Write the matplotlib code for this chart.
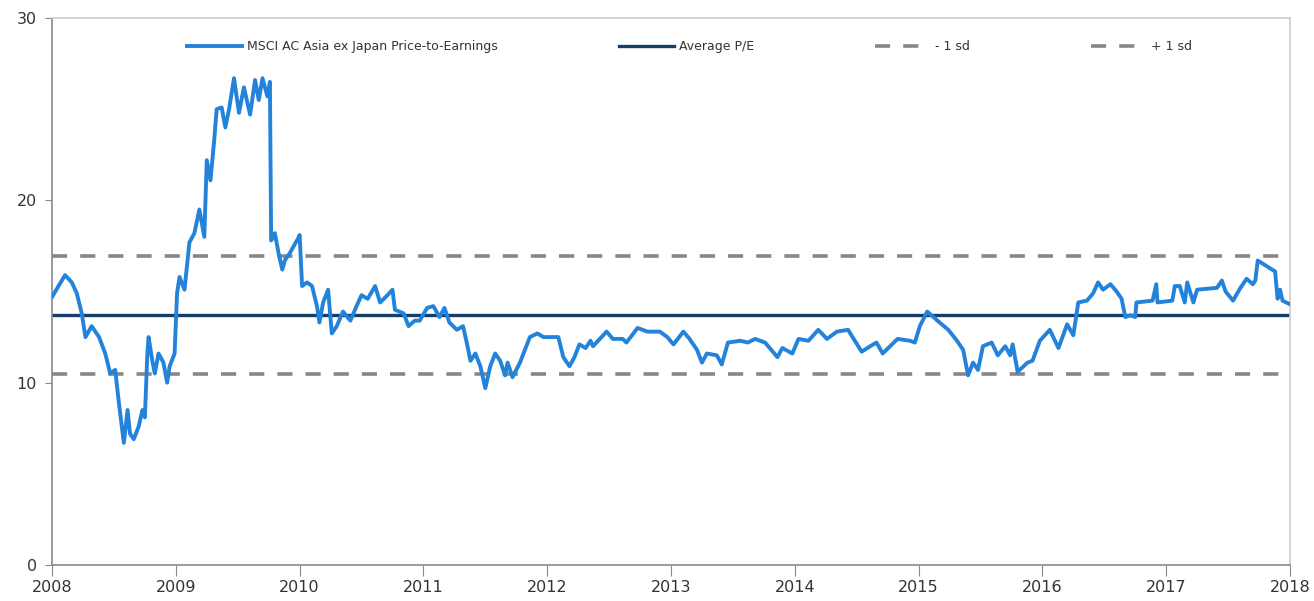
import matplotlib.pyplot as plt
import numpy as np

plt.rcParams['font.family'] = ['Liberation Sans Narrow', 'DejaVu Sans Condensed', 'DejaVu Sans']

# MSCI AC Asia ex Japan trailing P/E
years = [
    2008.00, 2008.105, 2008.16, 2008.20, 2008.24, 2008.27, 2008.32, 2008.38, 2008.43, 2008.47,
    2008.51, 2008.54, 2008.58, 2008.61, 2008.63, 2008.66, 2008.70, 2008.73, 2008.75, 2008.77,
    2008.78, 2008.81, 2008.83, 2008.86, 2008.90, 2008.93, 2008.95, 2008.99, 2009.01, 2009.03,
    2009.07, 2009.11, 2009.15, 2009.19, 2009.23, 2009.25, 2009.28, 2009.31, 2009.33, 2009.37,
    2009.40, 2009.43, 2009.47, 2009.51, 2009.55, 2009.60, 2009.64, 2009.67, 2009.70, 2009.74,
    2009.76, 2009.77, 2009.80, 2009.83, 2009.86, 2009.88, 2009.92, 2009.995, 2010.00, 2010.02,
    2010.06, 2010.10, 2010.14, 2010.16, 2010.19, 2010.23, 2010.26, 2010.30, 2010.35, 2010.41,
    2010.46, 2010.50, 2010.55, 2010.61, 2010.65, 2010.71, 2010.75, 2010.77, 2010.84, 2010.88,
    2010.93, 2010.97, 2011.03, 2011.08, 2011.13, 2011.17, 2011.21, 2011.27, 2011.32, 2011.35,
    2011.38, 2011.42, 2011.46, 2011.50, 2011.54, 2011.58, 2011.62, 2011.66, 2011.68, 2011.72,
    2011.78, 2011.82, 2011.86, 2011.92, 2011.97, 2012.02, 2012.09, 2012.13, 2012.18, 2012.22,
    2012.26, 2012.31, 2012.35, 2012.37, 2012.48, 2012.53, 2012.61, 2012.64, 2012.73, 2012.81,
    2012.91, 2012.97, 2013.02, 2013.10, 2013.15, 2013.21, 2013.25, 2013.29, 2013.37, 2013.41,
    2013.46, 2013.56, 2013.62, 2013.68, 2013.76, 2013.86, 2013.90, 2013.98, 2014.03, 2014.11,
    2014.19, 2014.26, 2014.34, 2014.43, 2014.54, 2014.61, 2014.66, 2014.71, 2014.83, 2014.93,
    2014.97, 2015.01, 2015.07, 2015.12, 2015.17, 2015.24, 2015.31, 2015.36, 2015.40, 2015.44,
    2015.48, 2015.52, 2015.59, 2015.64, 2015.70, 2015.74, 2015.76, 2015.80, 2015.88, 2015.92,
    2015.98, 2016.06, 2016.13, 2016.20, 2016.25, 2016.29, 2016.36, 2016.41, 2016.45, 2016.49,
    2016.55, 2016.60, 2016.64, 2016.67, 2016.71, 2016.75, 2016.76, 2016.89, 2016.92, 2016.93,
    2017.05, 2017.07, 2017.11, 2017.15, 2017.17, 2017.22, 2017.25, 2017.41, 2017.45, 2017.48,
    2017.54, 2017.60, 2017.65, 2017.70, 2017.72, 2017.74, 2017.88, 2017.90, 2017.92, 2017.94,
    2018.00,
]
pe = [
    14.7, 15.9, 15.5, 14.9, 13.8, 12.5, 13.1, 12.5, 11.6, 10.5,
    10.7, 8.9, 6.7, 8.5, 7.2, 6.9, 7.6, 8.5, 8.1, 11.6,
    12.5, 11.2, 10.5, 11.6, 11.1, 10.0, 10.9, 11.6, 14.9, 15.8,
    15.1, 17.7, 18.2, 19.5, 18.0, 22.2, 21.1, 23.3, 25.0, 25.1,
    24.0, 25.0, 26.7, 24.8, 26.2, 24.7, 26.6, 25.5, 26.7, 25.7,
    26.5, 17.8, 18.2, 17.1, 16.2, 16.7, 17.1, 18.0, 18.1, 15.3,
    15.5, 15.3, 14.2, 13.3, 14.4, 15.1, 12.7, 13.1, 13.9, 13.4,
    14.2, 14.8, 14.6, 15.3, 14.4, 14.8, 15.1, 14.0, 13.8, 13.1,
    13.4, 13.4, 14.1, 14.2, 13.6, 14.1, 13.3, 12.9, 13.1, 12.2,
    11.2, 11.6, 10.9, 9.7, 10.9, 11.6, 11.2, 10.4, 11.1, 10.3,
    11.1, 11.8, 12.5, 12.7, 12.5, 12.5, 12.5, 11.4, 10.9, 11.4,
    12.1, 11.9, 12.3, 12.0, 12.8, 12.4, 12.4, 12.2, 13.0, 12.8,
    12.8, 12.5, 12.1, 12.8, 12.4, 11.8, 11.1, 11.6, 11.5, 11.0,
    12.2, 12.3, 12.2, 12.4, 12.2, 11.4, 11.9, 11.6, 12.4, 12.3,
    12.9, 12.4, 12.8, 12.9, 11.7, 12.0, 12.2, 11.6, 12.4, 12.3,
    12.2, 13.1, 13.9, 13.6, 13.3, 12.9, 12.3, 11.8, 10.4, 11.1,
    10.7, 12.0, 12.2, 11.5, 12.0, 11.5, 12.1, 10.6, 11.1, 11.2,
    12.3, 12.9, 11.9, 13.2, 12.6, 14.4, 14.5, 14.9, 15.5, 15.1,
    15.4, 15.0, 14.6, 13.6, 13.7, 13.6, 14.4, 14.5, 15.4, 14.4,
    14.5, 15.3, 15.3, 14.4, 15.5, 14.4, 15.1, 15.2, 15.6, 15.0,
    14.5, 15.2, 15.7, 15.4, 15.6, 16.7, 16.1, 14.6, 15.1, 14.5,
    14.3,
]

avg_pe = 13.7
minus_1sd = 10.5
plus_1sd = 16.95

year_ticks = list(range(2008, 2019))
pe_ticks = [0, 10, 20, 30]

fig = plt.figure(figsize=(13.14, 6.01), dpi=100)
ax = fig.add_axes([0.0396, 0.0599, 0.9421, 0.9101])

ax.plot(years, pe, color='#2383db', lw=2.8, solid_joinstyle='round',
        label='MSCI AC Asia ex Japan Price-to-Earnings', zorder=3)
ax.axhline(avg_pe, color='#173f66', lw=2.4, label='Average P/E', zorder=2)
ax.axhline(minus_1sd, color='#878787', lw=2.6, dashes=(4.2, 3.6), label='- 1 sd', zorder=1)
ax.axhline(plus_1sd, color='#878787', lw=2.6, dashes=(4.2, 3.6), label='+ 1 sd', zorder=1)

ax.set_xlim(2008, 2018)
ax.set_ylim(0, 30)
ax.set_xticks(year_ticks)
ax.set_xticklabels([str(y) for y in year_ticks])
ax.set_yticks(pe_ticks)

for s in ['left', 'bottom']:
    ax.spines[s].set_color('#8a8a8a')
    ax.spines[s].set_linewidth(1.2)
for s in ['top', 'right']:
    ax.spines[s].set_color('#cccccc')
    ax.spines[s].set_linewidth(1.2)
ax.tick_params(axis='x', length=8, color='#8a8a8a', labelsize=11.5, labelcolor='#333333', pad=3)
ax.tick_params(axis='y', length=5, color='#8a8a8a', labelsize=11.5, labelcolor='#333333', pad=6)

ax.legend(loc='lower left', bbox_to_anchor=(0.1, 0.915, 0.83, 0.05), mode='expand',
          ncol=4, frameon=False, fontsize=9, handlelength=4.4, handletextpad=0.4,
          labelcolor='#333333')

plt.savefig('out.png', dpi=100)
